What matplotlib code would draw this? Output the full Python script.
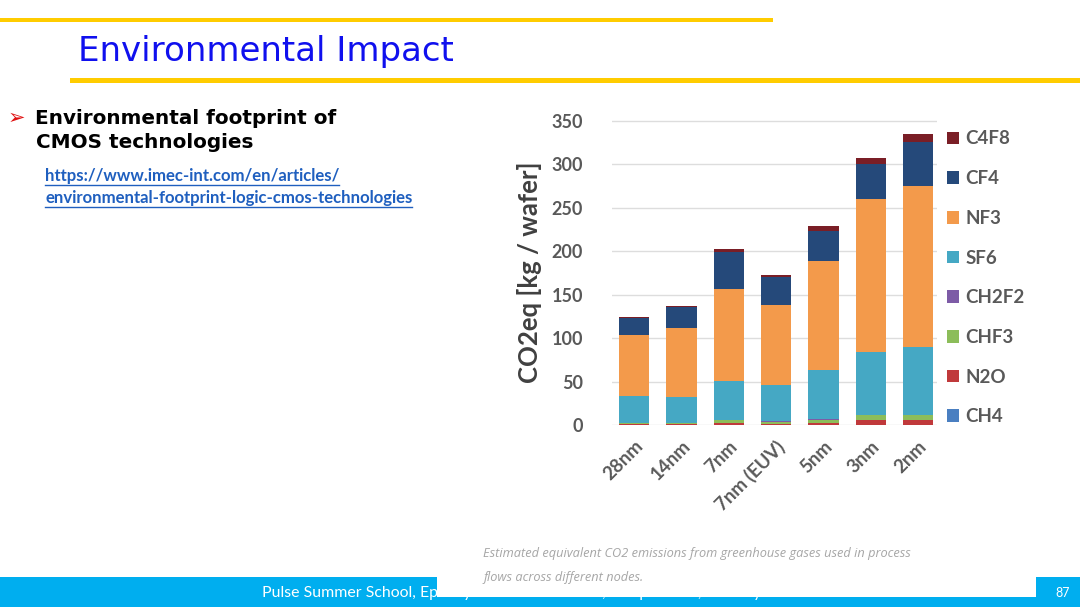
import matplotlib
matplotlib.use("Agg")  # headless plotting

import matplotlib.pyplot as plt
import matplotlib.patches as mpatches
import numpy as np

W, H = 1080, 607

nodes = ['28nm', '14nm', '7nm', '7nm (EUV)', '5nm', '3nm', '2nm']
gases = ['CH4', 'N2O', 'CHF3', 'CH2F2', 'SF6', 'NF3', 'CF4', 'C4F8']

ch4 = [0.3, 0.3, 0.3, 0.3, 0.3, 0.5, 0.5]
n2o = [0.5, 0.5, 2.5, 1.0, 2.5, 5.0, 5.0]
chf3 = [1.5, 1.5, 2.5, 2.5, 3.5, 5.5, 5.5]
ch2f2 = [0.3, 0.3, 0.3, 0.3, 0.3, 0.5, 0.5]
sf6 = [31, 30, 45, 41.5, 57, 73, 78.7]
nf3 = [70, 79, 106, 92, 125, 176, 184.5]
cf4 = [20, 24, 43, 33, 35, 39.5, 51.5]
c4f8 = [1, 1, 3, 2, 5, 7.7, 8.8]

series = [ch4, n2o, chf3, ch2f2, sf6, nf3, cf4, c4f8]
colors = ['#4A7FC1', '#C0393B', '#8CBD5A', '#7D5BA6', '#45A8C4',
          '#F39A4B', '#25497A', '#7A1E26']

yticks = [0, 50, 100, 150, 200, 250, 300, 350]


def fx(px):
    return px / W


def fy(py):
    return 1 - py / H


fig = plt.figure(figsize=(W / 100, H / 100), dpi=100)
fig.patch.set_facecolor('white')

# slide decorations
fig.add_artist(mpatches.Rectangle((fx(0), fy(22)), fx(773), 4.5 / H,
                                  color='#FFCC00', lw=0))
fig.add_artist(mpatches.Rectangle((fx(70), fy(83)), fx(1010), 5 / H,
                                  color='#FFCC00', lw=0))
fig.text(fx(78), fy(52), 'Environmental Impact', color='#1010EE',
         fontsize=24.5, family='DejaVu Sans', va='center', ha='left')

fig.text(fx(8), fy(118), '\u27a2', color='#E01010', fontsize=15,
         family='DejaVu Sans', va='center', ha='left')
fig.text(fx(35), fy(118), 'Environmental footprint of', color='black',
         fontsize=14.4, weight='bold', family='DejaVu Sans', va='center')
fig.text(fx(36), fy(142), 'CMOS technologies', color='black',
         fontsize=14.4, weight='bold', family='DejaVu Sans', va='center')

fig.canvas.draw()
renderer = fig.canvas.get_renderer()
for txt, yy in [('https://www.imec-int.com/en/articles/', 176),
                ('environmental-footprint-logic-cmos-technologies', 198)]:
    t = fig.text(fx(45), fy(yy), txt, color='#1F5FBF', fontsize=12.1,
                 weight='bold', family='Lato', va='center')
    bb = t.get_window_extent(renderer)
    # underline under each link line
    fig.add_artist(plt.Line2D([fx(bb.x0), fx(bb.x1)],
                              [fy(yy + 9), fy(yy + 9)],
                              color='#1F5FBF', lw=1))

# footer
fig.add_artist(mpatches.Rectangle((0, 0), 1, 30 / H, color='#00AEEF', lw=0))
fig.text(fx(262), fy(593), 'Pulse Summer School, Epitaxy Basics & Promises, '
         'Porquerolles, 2-6 July 2021', color='white', fontsize=11.4,
         family='Lato', va='center', ha='left')
fig.text(fx(1070), fy(593), '87', color='white', fontsize=9,
         family='Lato', va='center', ha='right')
fig.add_artist(mpatches.Rectangle((fx(437), fy(597)), fx(599), 30 / H,
                                  color='white', lw=0, zorder=5))
fig.text(fx(483), fy(553), 'Estimated equivalent CO2 emissions from '
         'greenhouse gases used in process', color='#A6A6A6', fontsize=9.2,
         style='italic', family='Open Sans', va='center', zorder=6)
fig.text(fx(483), fy(578), 'flows across different nodes.', color='#A6A6A6',
         fontsize=9.2, style='italic', family='Open Sans', va='center',
         zorder=6)

# chart
ax = fig.add_axes([fx(612), fy(425), fx(325), 306 / H])
x = np.arange(len(nodes))
bottom = np.zeros(len(nodes))
handles = []
for vals, col, name in zip(series, colors, gases):
    b = ax.bar(x, vals, 0.64, bottom=bottom, color=col, label=name, zorder=3)
    bottom += np.array(vals)
    handles.append(b)

ax.set_xlim(-0.47, 6.4)
ax.set_ylim(0, 350 * 306 / 304)
ax.set_yticks(yticks)
ax.set_yticklabels([str(v) for v in yticks], fontsize=13, color='#595959',
                   weight='bold', family='Lato')
ax.set_xticks(x)
ax.set_xticklabels(nodes, rotation=45, ha='right', rotation_mode='anchor',
                   fontsize=13.5, color='#595959', weight='bold', family='Lato')
ax.tick_params(axis='both', length=0)
ax.tick_params(axis='y', pad=21)
ax.tick_params(axis='x', pad=9)
ax.grid(axis='y', color='#DDDDDD', lw=1, zorder=0)
for s in ax.spines.values():
    s.set_visible(False)
ax.set_ylabel('CO2eq [kg / wafer]', fontsize=18.5, color='#404040',
              weight='bold', family='Lato', labelpad=7)

leg = fig.legend(handles[::-1], gases[::-1], loc='upper left',
                 bbox_to_anchor=(fx(939), fy(123)), frameon=False,
                 prop={'family': 'Lato', 'weight': 'bold', 'size': 13.5},
                 labelcolor='#595959', handlelength=0.65, handleheight=0.65,
                 handletextpad=0.35, labelspacing=1.21, borderaxespad=0)

fig.savefig('out.png', dpi=100)
plt.close(fig)
